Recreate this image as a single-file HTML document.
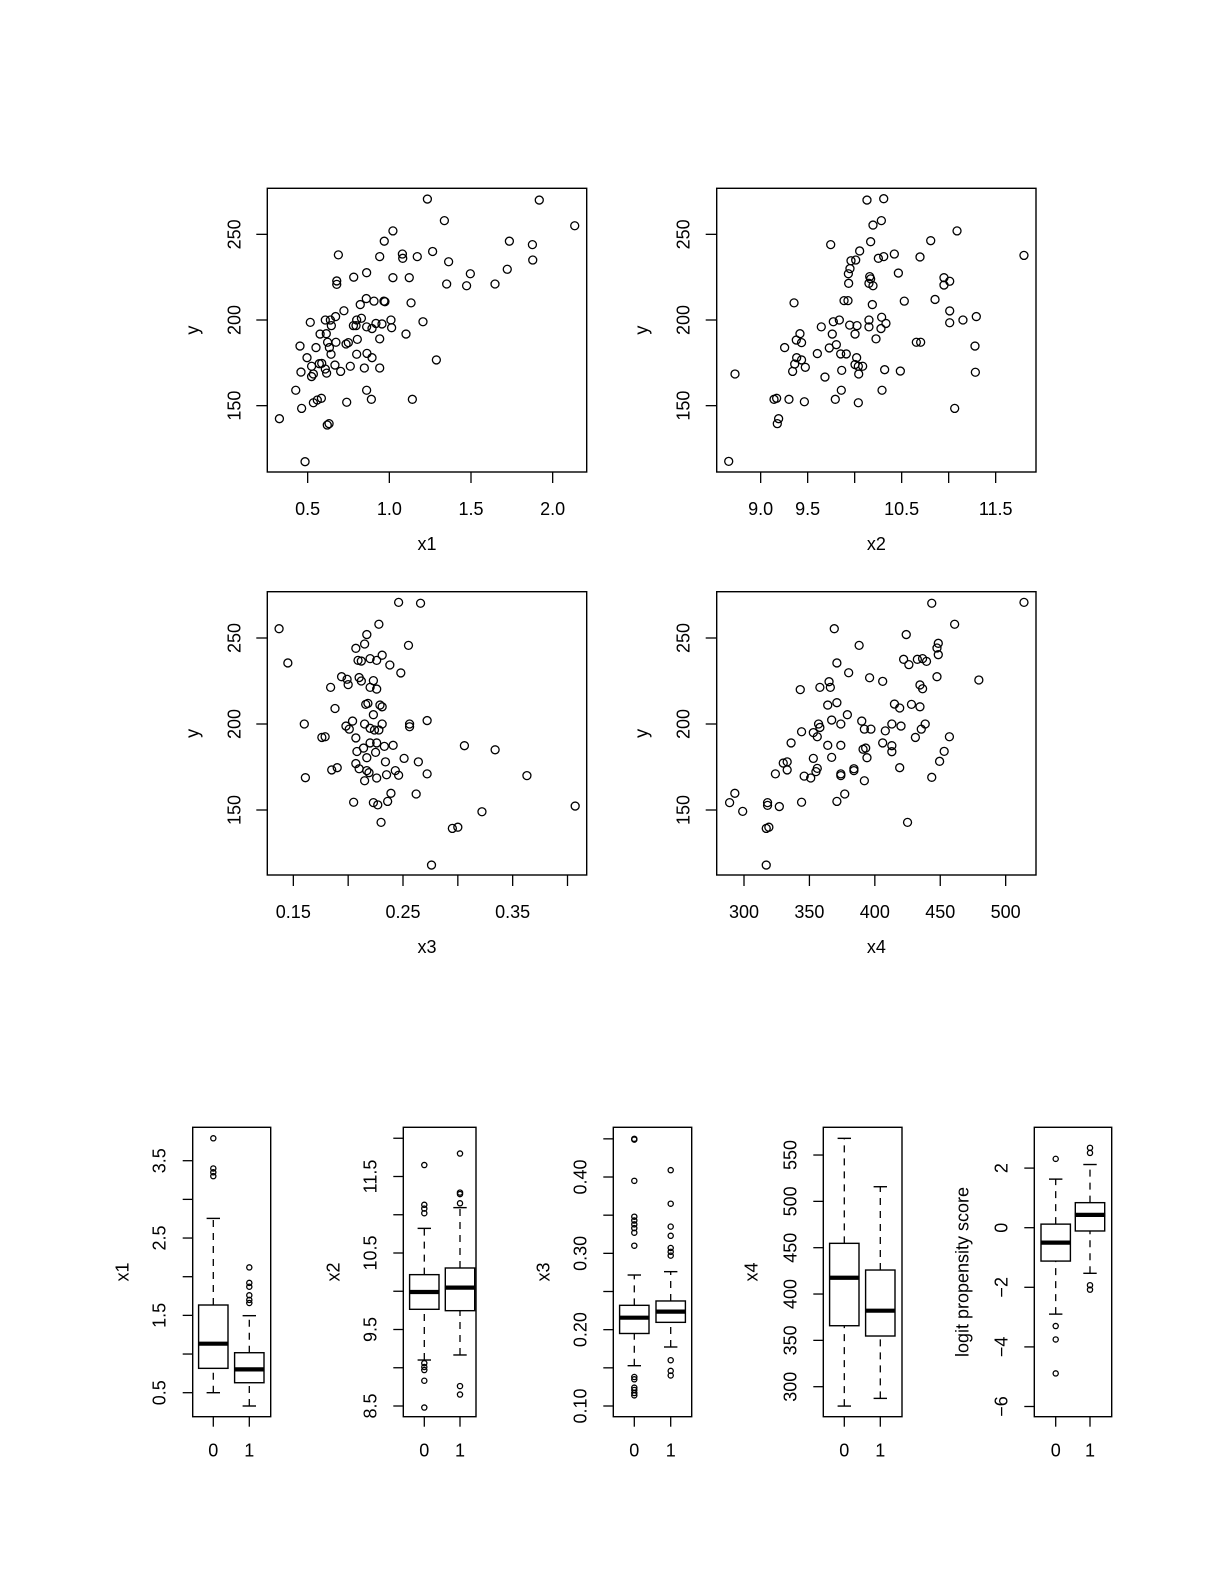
<!DOCTYPE html>
<html><head><meta charset="utf-8"><title>Scatter and box plots</title>
<style>
html,body{margin:0;padding:0;background:#fff;}
svg{display:block;font-family:"Liberation Sans",Arial,sans-serif;}
</style></head>
<body>
<svg id="fig" width="1225" height="1585" viewBox="0 0 1225 1585" xmlns="http://www.w3.org/2000/svg"></svg>
<script>
// ---------- scatter data ----------
const x1Vals=[1.233,1.918,1.337,2.135,1.022,0.969,1.735,1.876,0.688,0.941,1.080,1.082,1.171,1.265,1.363,1.878,1.722,1.496,0.861,0.782,0.678,0.678,1.022,1.122,1.351,1.473,1.647,0.859,0.906,0.967,0.973,0.822,1.133,0.722,0.671,0.639,0.608,0.516,0.645,0.780,0.800,0.829,0.796,0.861,0.894,0.918,0.955,1.010,1.014,1.206,0.576,0.614,0.622,0.673,0.735,0.749,0.804,0.941,1.102,0.453,0.551,0.633,0.496,0.643,0.800,0.863,0.894,0.524,0.571,0.586,0.608,0.616,0.667,0.702,0.761,0.847,0.941,1.288,0.459,0.535,0.524,0.427,0.861,0.890,1.141,0.463,0.535,0.559,0.584,0.739,0.327,0.620,0.631,0.484];
const y1Vals=[270.6,270,258,255,252,246,246,244,238,237,238.5,236,237,240,234,235,229.6,227,227.6,225,222.8,220.8,224.7,224.7,221,220,221,212.5,211,211,210.7,209,210,205.4,202,200,200,198.6,196.7,196.7,200,201,196.7,196,195,198,197.7,200,195.5,199,191.8,192,187,187,186,186.8,188.7,189,191.8,184.8,183.9,183.9,178,180,180,180.5,178,173,174.5,174.7,171.4,169,173.7,170,173,172,172,176.7,169.6,168.5,167,159,159,153.7,153.7,148.4,151.7,153.3,154.3,152,142.4,138.7,139.5,117.3];
const x2Vals=[10.131,10.309,10.195,10.284,11.089,9.745,10.170,10.809,10.053,10.252,10.309,10.422,10.695,11.801,9.961,10.011,9.950,9.933,10.465,10.160,10.170,10.152,10.195,9.936,10.950,11.011,10.950,9.887,9.929,10.188,10.528,10.855,9.355,11.011,11.011,11.152,11.294,9.773,9.837,9.645,9.947,10.025,10.004,10.152,10.152,10.287,10.280,10.333,10.227,9.762,9.418,9.379,9.435,9.255,9.805,9.730,9.603,9.851,9.911,10.021,9.383,9.435,9.362,9.340,9.475,10.004,10.039,10.085,10.043,9.862,9.684,10.319,10.486,10.656,10.702,11.280,11.284,8.727,9.142,9.170,9.301,9.465,9.858,9.794,10.039,10.291,11.064,9.191,9.177,8.660];
const y2Vals=[270,270.8,255.4,258,252,244,245.7,246.3,240.3,236,237,238.5,236.8,237.7,234.6,235,230,227,227.4,225.3,224,221.4,220,221.4,224.7,222.6,220.4,211.3,211.3,209,211,212,210,205.3,198.4,200,202,199,200,196,197,196.7,191.8,200,196,201.6,195,198,189,191.8,192,188.3,186.8,183.9,185.6,183.7,180.4,180.2,180.2,178,178,176.7,174.3,170,172.4,174,173,173,168.5,170.6,166.7,171,170.2,187,187,184.8,169.5,168.5,153.7,154.3,153.7,152.3,159,153.7,151.7,159,148.4,142.4,139.5,117.5];
const x3Vals=[0.246,0.266,0.137,0.228,0.217,0.215,0.207,0.255,0.145,0.209,0.212,0.220,0.226,0.231,0.238,0.248,0.194,0.199,0.200,0.210,0.212,0.223,0.220,0.226,0.184,0.188,0.216,0.218,0.229,0.231,0.223,0.160,0.198,0.201,0.204,0.215,0.220,0.224,0.228,0.231,0.256,0.256,0.272,0.176,0.179,0.207,0.220,0.226,0.233,0.241,0.208,0.214,0.225,0.217,0.207,0.234,0.251,0.264,0.306,0.334,0.185,0.190,0.210,0.217,0.219,0.215,0.226,0.235,0.243,0.246,0.272,0.161,0.363,0.205,0.223,0.227,0.236,0.239,0.262,0.230,0.322,0.295,0.300,0.407,0.276];
const y3Vals=[270.7,270.2,255.4,258,252,246.5,244,245.7,235.5,237,236.6,238,237,240,234.3,229.7,227.5,226,222.9,227,225,225.2,221.3,220.3,221.3,209,211.4,212,211,210,205.4,200,198.8,197,201.7,200,197.5,196.5,196.5,200,200,198.4,202,192.2,192.6,191.9,189,189,187,187.6,184,186,183.5,180.4,177,178,180,178,187.4,185,173.3,174.6,174,172.9,171.7,167,168.6,170.5,172.9,170.2,171,168.8,170,154.5,154.3,153,155,159.7,159.3,142.8,149,139.3,140,152.3,118];
const x4Vals=[443.5,514,461,369,424,388,448.5,447.5,448.5,371,380,422,426,432.5,436.5,439.5,447.5,396,406,479.5,343,358,365,366,434.5,436.5,364,371,379,415,419,428,434.5,344,353,357,358,356,367,374,390,392,397,408,413,420,438.5,435.5,431,457,336,364,374,367,391,393,394,406,413,413,453,449.5,330,333,333,324,346,351,353,355,356,374,374,384,384,392,419,443.5,293,289,299,318,318,327,344,371,377,317,319,425,317];
const y4Vals=[270.2,270.7,258,255.4,252,245.7,246.9,244.2,240.3,235.5,229.8,237.6,234.5,237.6,238,236.4,227.5,226.9,224.8,225.6,220,221.3,224.6,221.3,222.7,220.5,211,212.4,205.4,211.6,209.3,211.4,210,195.5,195,200,198,192.6,202.3,200,201.7,197,197,196,200,198.8,200,197,192.2,192.6,189,187.6,187.6,180.6,185.3,186,180.4,189,187.4,183.9,184.1,178.3,177.3,178,173.3,171,169.7,168.6,180,172.3,174.2,171,170,174,172.9,167,174.6,169,159.7,154.3,149.2,154.3,152.7,152,154.5,155,159.3,139.3,140,142.8,118];
// scatter tick values
const s1XTicks=[0.5,1.0,1.5,2.0];
const s1XLabels=["0.5","1.0","1.5","2.0"];
const s2XTicks=[9.0,9.5,10.0,10.5,11.0,11.5];
const s2XLabels=["9.0","9.5","","10.5","","11.5"];
const s3XTicks=[0.15,0.20,0.25,0.30,0.35,0.40];
const s3XLabels=["0.15","","0.25","","0.35",""];
const s4XTicks=[300,350,400,450,500];
const s4XLabels=["300","350","400","450","500"];
const sYTicks=[150,200,250];
const sYLabels=["150","200","250"];

// ---------- boxplot data (per group: lower whisker, Q1, median, Q3, upper whisker) ----------
const groupLabels=["0","1"];
const bx1Stats=[[0.50,0.815,1.134,1.634,2.754],[0.328,0.629,0.802,1.017,1.496]];
const bx1Out=[[3.79,3.40,3.35,3.30],[2.12,1.92,1.87,1.76,1.70,1.66]];
const bx2Stats=[[9.101,9.764,9.990,10.217,10.822],[9.167,9.746,10.047,10.304,11.093]];
const bx2Out=[[11.65,11.13,11.08,11.02,9.06,9.01,8.97,8.83,8.48],[11.80,11.29,11.27,11.15,8.76,8.65]];
const bx3Stats=[[0.1528,0.195,0.2157,0.2319,0.2716],[0.1773,0.2096,0.2236,0.2376,0.276]];
const bx3Out=[[0.450,0.449,0.395,0.348,0.343,0.338,0.333,0.327,0.310,0.138,0.135,0.124,0.121,0.117,0.114],[0.409,0.365,0.335,0.323,0.307,0.302,0.297,0.160,0.146,0.140]];
const bx4Stats=[[279.1,365.8,417.6,454.7,568],[287.4,354.7,382,425.9,515.8]];
const bx4Out=[[],[]];
const bx5Stats=[[-2.9,-1.12,-0.50,0.12,1.63],[-1.53,-0.11,0.43,0.84,2.12]];
const bx5Out=[[2.31,-3.30,-3.75,-4.89],[2.68,2.51,-1.93,-2.08]];
const bx1Ticks=[0.5,1.0,1.5,2.0,2.5,3.0,3.5];
const bx1Labels=["0.5","","1.5","","2.5","","3.5"];
const bx2Ticks=[8.5,9.0,9.5,10.0,10.5,11.0,11.5,12.0];
const bx2Labels=["8.5","","9.5","","10.5","","11.5",""];
const bx3Ticks=[0.10,0.15,0.20,0.25,0.30,0.35,0.40,0.45];
const bx3Labels=["0.10","","0.20","","0.30","","0.40",""];
const bx4Ticks=[300,350,400,450,500,550];
const bx4Labels=["300","350","400","450","500","550"];
const bx5Ticks=[-6,-4,-2,0,2];
const bx5Labels=["\u22126","\u22124","\u22122","0","2"];

const NS="http://www.w3.org/2000/svg";
const svg=document.getElementById('fig');
function mk(tag,attrs,parent){const e=document.createElementNS(NS,tag);for(const k in attrs)e.setAttribute(k,attrs[k]);(parent||svg).appendChild(e);return e;}
function lin(v0,p0,k){return v=>p0+(v-v0)*k;}

function scatter(name,box,sx,sy,xs,ys,xt,xl,xlabel){
  const g=mk('g',{});
  
  
  const fr=mk('rect',{x:box.l,y:box.t,width:box.r-box.l,height:box.b-box.t,fill:'none',stroke:'#000','stroke-width':1.4},g);
  
  
  for(let i=0;i<xs.length;i++){
    const c=mk('circle',{cx:sx(xs[i]),cy:sy(ys[i]),r:4,fill:'none',stroke:'#000','stroke-width':1.3},g);
    
    
  }
  xt.forEach((v,i)=>{
    const x=sx(v);
    const t=mk('line',{x1:x,x2:x,y1:box.b,y2:box.b+11,stroke:'#000','stroke-width':1.3},g);
    
    
    if(xl[i]){const tx=mk('text',{x:x,y:box.b+43,'text-anchor':'middle','font-size':18},g);tx.textContent=xl[i];
      
      }
  });
  sYTicks.forEach((v,i)=>{
    const y=sy(v);
    const t=mk('line',{x1:box.l-11,x2:box.l,y1:y,y2:y,stroke:'#000','stroke-width':1.3},g);
    
    
    const tx=mk('text',{x:0,y:0,'text-anchor':'middle','font-size':18,transform:`translate(${box.l-27},${y}) rotate(-90)`},g);
    tx.textContent=sYLabels[i];
    
    
  });
  const xa=mk('text',{x:(box.l+box.r)/2,y:box.b+78,'text-anchor':'middle','font-size':18},g);xa.textContent=xlabel;
  
  
  const ya=mk('text',{x:0,y:0,'text-anchor':'middle','font-size':18,transform:`translate(${box.l-69},${(box.t+box.b)/2}) rotate(-90)`},g);ya.textContent='y';
  
  
}
const syTop=lin(200,320,-5.14/3), syBot=lin(200,724,-5.16/3);
scatter('scatter-x1',{l:267.3,r:586.7,t:188.3,b:472},lin(0.5,260+143/3,490/3),syTop,x1Vals,y1Vals,s1XTicks,s1XLabels,'x1');
scatter('scatter-x2',{l:716.7,r:1036,t:188.3,b:472},lin(9,704+170/3,282/3),syTop,x2Vals,y2Vals,s2XTicks,s2XLabels,'x2');
scatter('scatter-x3',{l:267.3,r:586.7,t:591.7,b:875},lin(0.15,260+100/3,3290/3),syBot,x3Vals,y3Vals,s3XTicks,s3XLabels,'x3');
scatter('scatter-x4',{l:716.7,r:1036,t:591.7,b:875},lin(300,704+40,3.925/3),syBot,x4Vals,y4Vals,s4XTicks,s4XLabels,'x4');

function boxplot(name,box,sy,gx,stats,outs,ticks,labels,ylabel,labOff){
  const g=mk('g',{});
  
  
  stats.forEach((s,i)=>{
    const x=gx[i],hw=14.7,sw=6.7;
    const wl=mk('line',{x1:x,x2:x,y1:sy(s[0]),y2:sy(s[1]),stroke:'#000','stroke-width':1.3,'stroke-dasharray':'7,6'},g);
    
    
    const wu=mk('line',{x1:x,x2:x,y1:sy(s[3]),y2:sy(s[4]),stroke:'#000','stroke-width':1.3,'stroke-dasharray':'7,6'},g);
    
    
    [s[0],s[4]].forEach(v=>{const st=mk('line',{x1:x-sw,x2:x+sw,y1:sy(v),y2:sy(v),stroke:'#000','stroke-width':1.4},g);
      
      });
    const r=mk('rect',{x:x-hw,y:sy(s[3]),width:2*hw,height:sy(s[1])-sy(s[3]),fill:'#fff',stroke:'#000','stroke-width':1.4},g);
    
    
    const m=mk('line',{x1:x-hw-0.5,x2:x+hw+0.5,y1:sy(s[2]),y2:sy(s[2]),stroke:'#000','stroke-width':4.2},g);
    
    
    outs[i].forEach(v=>{const c=mk('circle',{cx:x,cy:sy(v),r:2.6,fill:'none',stroke:'#000','stroke-width':1.3},g);
      
      });
    const t=mk('line',{x1:x,x2:x,y1:box.b,y2:box.b+10,stroke:'#000','stroke-width':1.3},g);
    
    
    const tx=mk('text',{x:x,y:box.b+40,'text-anchor':'middle','font-size':18},g);tx.textContent=groupLabels[i];
    
    
  });
  const fr=mk('rect',{x:box.l,y:box.t,width:box.r-box.l,height:box.b-box.t,fill:'none',stroke:'#000','stroke-width':1.4},g);
  
  
  ticks.forEach((v,i)=>{
    const y=sy(v);
    const t=mk('line',{x1:box.l-10,x2:box.l,y1:y,y2:y,stroke:'#000','stroke-width':1.3},g);
    
    
    if(labels[i]){const tx=mk('text',{x:0,y:0,'text-anchor':'middle','font-size':18,transform:`translate(${box.l-27},${y}) rotate(-90)`},g);
      tx.textContent=labels[i];
      
      }
  });
  const ya=mk('text',{x:0,y:0,'text-anchor':'middle','font-size':18,transform:`translate(${box.l-labOff},${(box.t+box.b)/2}) rotate(-90)`},g);ya.textContent=ylabel;
  
  
}
const bt=1127.3,bb=1416.7;
boxplot('boxplot-x1',{l:192.7,r:270.7,t:bt,b:bb},lin(0.5,1392.7,-77.33),[213.3,249.3],bx1Stats,bx1Out,bx1Ticks,bx1Labels,'x1',64);
boxplot('boxplot-x2',{l:403.3,r:476,t:bt,b:bb},lin(8.5,1406,-76.5),[424.3,460],bx2Stats,bx2Out,bx2Ticks,bx2Labels,'x2',64);
boxplot('boxplot-x3',{l:613.3,r:691.7,t:bt,b:bb},lin(0.10,1406,-763.3),[634.3,670.7],bx3Stats,bx3Out,bx3Ticks,bx3Labels,'x3',64);
boxplot('boxplot-x4',{l:823.3,r:902,t:bt,b:bb},lin(300,1386.7,-0.9267),[844.3,880.3],bx4Stats,bx4Out,bx4Ticks,bx4Labels,'x4',66);
boxplot('boxplot-logit-propensity',{l:1034.3,r:1111.7,t:bt,b:bb},lin(0,1227.7,-29.8),[1055.7,1090],bx5Stats,bx5Out,bx5Ticks,bx5Labels,'logit propensity score',66);
</script>
</body></html>
